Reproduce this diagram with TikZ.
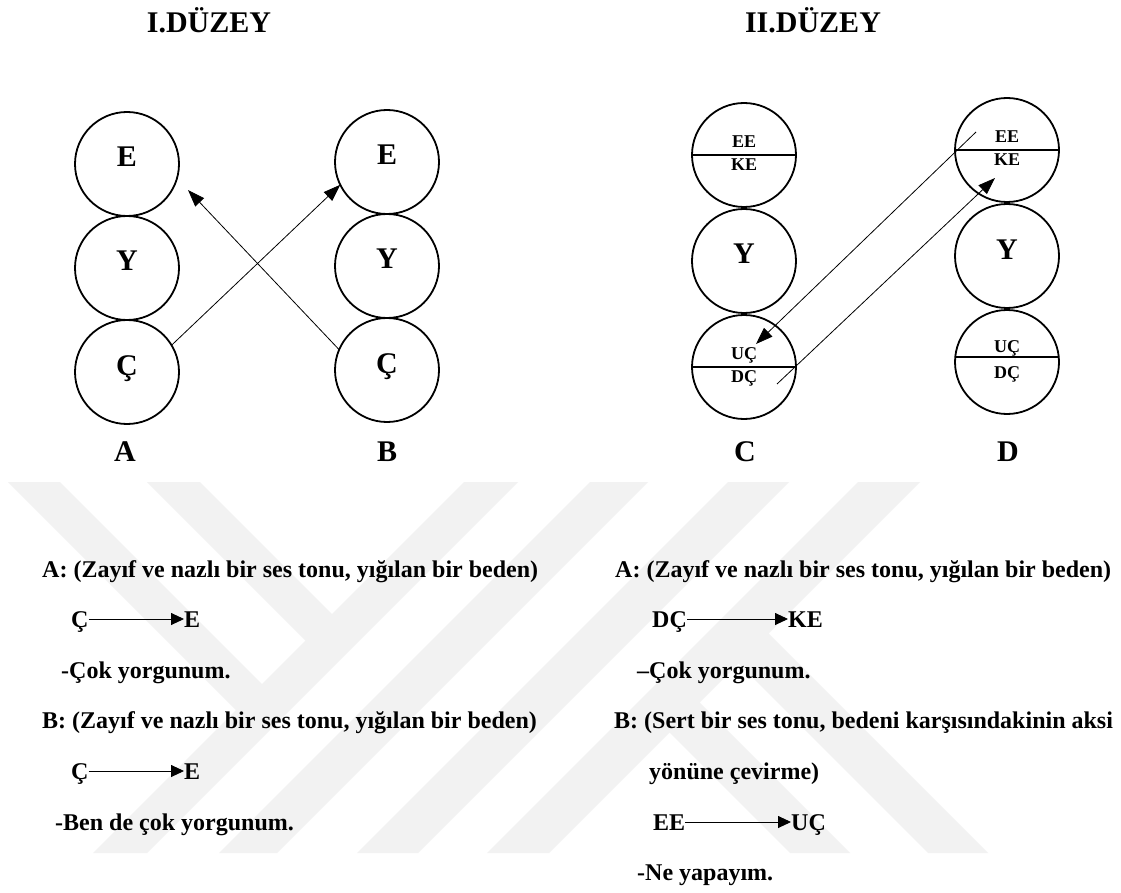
\documentclass[tikz,border=0pt]{standalone}
\usepackage{fontspec}
\setmainfont{Liberation Serif}
\usetikzlibrary{positioning,arrows.meta}
\tikzstyle{circ} = [draw, circle, line width=1.8pt, minimum size=104pt, inner sep=0pt, outer sep=0pt, font=\fontsize{30}{30}\selectfont\bfseries, text height=20pt, text depth=14pt]
\tikzstyle{half} = [draw, circle, line width=1.8pt, minimum size=104pt, inner sep=0pt, outer sep=0pt]
\tikzstyle{part} = [font=\fontsize{18}{18}\selectfont\bfseries, anchor=base, inner sep=0pt]
\tikzstyle{lbl} = [font=\fontsize{30}{30}\selectfont\bfseries, anchor=base, inner sep=0pt]
\tikzstyle{txt} = [font=\fontsize{24}{24}\selectfont\bfseries, anchor=base west, inner sep=0pt]
\tikzstyle{endp} = [txt, text height=16pt, text depth=0pt]
\tikzstyle{link} = [line width=0.8pt, -{Triangle[length=17pt,width=12pt]}]
\tikzstyle{shortlink} = [line width=0.9pt, -{Triangle[length=13pt,width=12pt]}]
\tikzstyle{band} = [fill=black!5, draw=none]

\begin{document}
\begin{tikzpicture}[x=1pt, y=-1pt]
		\fill [white] (0,0) rectangle (1121,893);
		\useasboundingbox (0,0) rectangle (1121,893);

		% watermark
		\foreach \a/\b in {464/518, 590/648, 728/789, 858/920}
			\fill [band] (\a,482) -- (\b,482) -- (\b-371,853) -- (\a-371,853) -- cycle;
		\fill [band] (8,482) -- (60,482) -- (275.5,697.5) -- (249.5,723.5) -- cycle;
		\fill [band] (147,482) -- (200,482) -- (345.5,627.5) -- (319,654) -- cycle;
		\fill [band] (723,648) -- (753,618) -- (988,853) -- (928,853) -- cycle;
		\fill [band] (654,717) -- (684,687) -- (850,853) -- (790,853) -- cycle;

		\node [lbl] (lev1) at (209,33) {I.DÜZEY};
		\node [lbl] (lev2) at (813,33) {II.DÜZEY};

		\node [circ] (Ae) at (127,164) {E};
		\node [circ, below=0pt of Ae] (Ay) {Y};
		\node [circ, below=0pt of Ay] (Ac) {Ç};
		\node [circ] (Be) at (387,162) {E};
		\node [circ, below=0pt of Be] (By) {Y};
		\node [circ, below=0pt of By] (Bc) {Ç};

		\node [lbl] (labA) at (125,461) {A};
		\node [lbl] (labB) at (387,461) {B};

		\coordinate (tipA) at (188,190);
		\draw [link] (Ac.31) -- (Be.206);
		\draw [link] (Bc.157) -- (tipA);

		\node [half] (Ct) at (744,155) {};
		\node [circ, below=2pt of Ct] (Cy) {Y};
		\node [half, below=2pt of Cy] (Cb) {};
		\node [half] (Dt) at (1007,150) {};
		\node [circ, below=2pt of Dt] (Dy) {Y};
		\node [half, below=2pt of Dy] (Db) {};

		\foreach \n in {Ct,Cb,Dt}
			\draw [line width=1.2pt] (\n.west) -- (\n.east);
		\draw [line width=1.2pt] ([yshift=5pt]Db.west) -- ([yshift=5pt]Db.east);

		\node [part] (CtE) at ([yshift=7pt]Ct.center) {EE};
		\node [part] (CtK) at ([yshift=-16pt]Ct.center) {KE};
		\node [part] (CbU) at ([yshift=8pt]Cb.center) {UÇ};
		\node [part] (CbD) at ([yshift=-15pt]Cb.center) {DÇ};
		\node [part] (DtE) at ([yshift=7pt]Dt.center) {EE};
		\node [part] (DtK) at ([yshift=-16pt]Dt.center) {KE};
		\node [part] (DbU) at ([yshift=10pt]Db.center) {UÇ};
		\node [part] (DbD) at ([yshift=-16pt]Db.center) {DÇ};

		\node [lbl] (labC) at (745,461) {C};
		\node [lbl] (labD) at (1008,461) {D};

		\coordinate (fromEE) at ([xshift=-31pt,yshift=18pt]Dt.center);
		\coordinate (toUC) at ([xshift=12pt,yshift=23pt]Cb.center);
		\coordinate (fromDC) at ([xshift=33pt,yshift=-17pt]Cb.center);
		\coordinate (toKE) at ([xshift=-12pt,yshift=-28pt]Dt.center);
		\draw [link] (fromEE) -- (toUC);
		\draw [link] (fromDC) -- (toKE);

		% dialogue, first level
		\node [txt] (a1) at (42,577) {A: (Zayıf ve nazlı bir ses tonu, yığılan bir beden)};
		\node [endp] (a1c) at (71,627) {Ç};
		\node [endp] (a1e) at (184,627) {E};
		\draw [shortlink] (a1c.east) -- (a1e.west);
		\node [txt] (a1s) at (61,678) {-Çok yorgunum.};
		\node [txt] (b1) at (42,728) {B: (Zayıf ve nazlı bir ses tonu, yığılan bir beden)};
		\node [endp] (b1c) at (71,779) {Ç};
		\node [endp] (b1e) at (184,779) {E};
		\draw [shortlink] (b1c.east) -- (b1e.west);
		\node [txt] (b1s) at (55,830) {-Ben de çok yorgunum.};

		% dialogue, second level
		\node [txt] (a2) at (615,577) {A: (Zayıf ve nazlı bir ses tonu, yığılan bir beden)};
		\node [endp] (a2d) at (652,627) {DÇ};
		\node [endp] (a2k) at (788,627) {KE};
		\draw [shortlink] (a2d.east) -- (a2k.west);
		\node [txt] (a2s) at (637,678) {–Çok yorgunum.};
		\node [txt] (b2) at (614,728) {B: (Sert bir ses tonu, bedeni karşısındakinin aksi};
		\node [txt] (b2b) at (649,779) {yönüne çevirme)};
		\node [endp] (b2e) at (653,830) {EE};
		\node [endp] (b2u) at (791,830) {UÇ};
		\draw [shortlink] (b2e.east) -- (b2u.west);
		\node [txt] (b2s) at (637,880) {-Ne yapayım.};
\end{tikzpicture}
\end{document}
